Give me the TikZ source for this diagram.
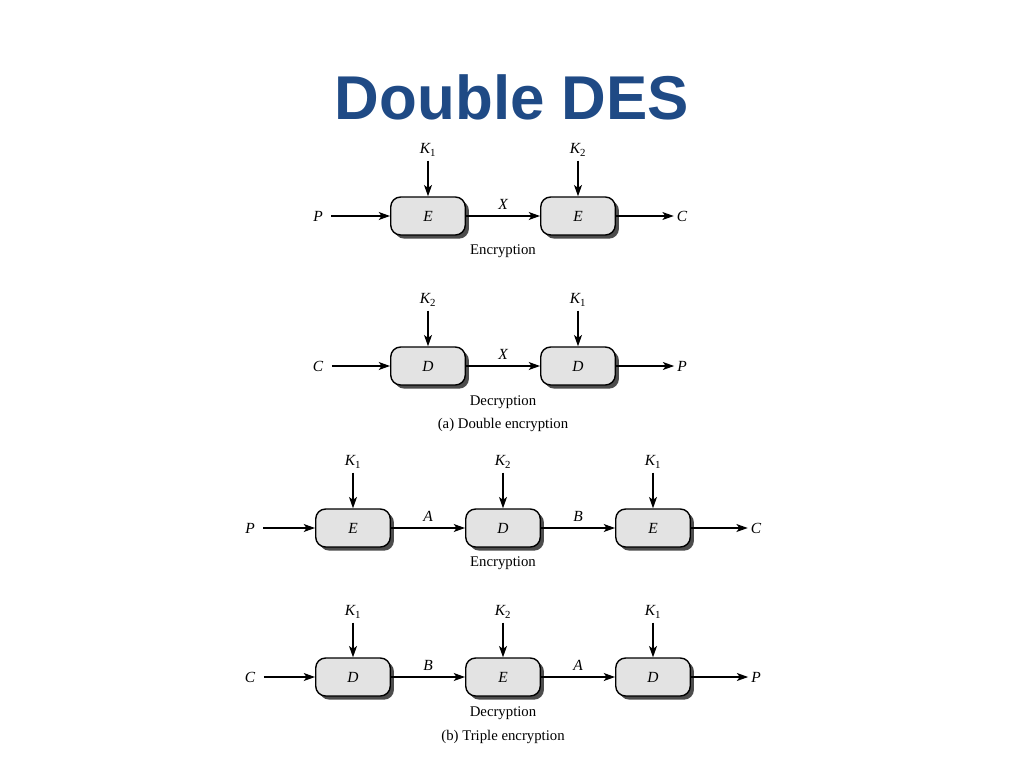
\documentclass[tikz,border=0pt]{standalone}
\usepackage{fontspec}
\setmainfont{Liberation Serif}
\newfontfamily\titlefont{Liberation Sans}
\usetikzlibrary{arrows.meta,shadows}
\definecolor{titleblue}{HTML}{1F4A85}
\begin{document}
\begin{tikzpicture}[x=0.025cm,y=-0.025cm,
  blk/.style={draw=black, line width=1pt, fill=gray!22, rounded corners=7pt,
    minimum width=53pt, minimum height=27pt, inner sep=0pt,
    font=\itshape\fontsize{11}{12}\selectfont,
    drop shadow={shadow xshift=2.6pt, shadow yshift=-2.6pt, fill=black!70, opacity=1}},
  lbl/.style={font=\itshape\fontsize{11}{12}\selectfont, inner sep=1pt},
  key/.style={lbl, inner ysep=3pt},
  inl/.style={lbl, inner xsep=6pt},
  outl/.style={lbl, inner xsep=2pt},
  captxt/.style={font=\fontsize{10.5}{12}\selectfont, inner sep=0pt},
  arr/.style={-{Stealth[length=8pt,width=5.6pt,inset=2pt]}, line width=1.2pt}]
\useasboundingbox (0,0) rectangle (1024,768);
\node[font=\titlefont\bfseries\fontsize{44}{50}\selectfont, text=titleblue] (title) at (512,97) {Double DES};

% ---- (a) Double encryption: encryption
\node[blk] (e1) at (428,216) {E};
\node[blk] (e2) at (578,216) {E};
\node[key] (k1a) at (428,150) {K\textsubscript{\upshape 1}};
\node[key] (k2a) at (578,150) {K\textsubscript{\upshape 2}};
\node[inl] (pa) at (318,216) {P};
\node[outl] (ca) at (682,216) {C};
\draw[arr] (k1a) -- (e1);
\draw[arr] (k2a) -- (e2);
\draw[arr] (pa) -- (e1);
\draw[arr] (e1) -- node[lbl, above=3pt] (xa) {X} (e2);
\draw[arr] (e2) -- (ca);
\node[captxt] (enca) at (503,251) {Encryption};

% ---- (a) Double encryption: decryption
\node[blk] (d1) at (428,366) {D};
\node[blk] (d2) at (578,366) {D};
\node[key] (k2b) at (428,300) {K\textsubscript{\upshape 2}};
\node[key] (k1b) at (578,300) {K\textsubscript{\upshape 1}};
\node[inl] (cb) at (318,366) {C};
\node[outl] (pb) at (682,366) {P};
\draw[arr] (k2b) -- (d1);
\draw[arr] (k1b) -- (d2);
\draw[arr] (cb) -- (d1);
\draw[arr] (d1) -- node[lbl, above=3pt] (xb) {X} (d2);
\draw[arr] (d2) -- (pb);
\node[captxt] (decb) at (503,402) {Decryption};
\node[captxt] (capa) at (503,425) {(a) Double encryption};

% ---- (b) Triple encryption: encryption
\node[blk] (te1) at (353,528) {E};
\node[blk] (td2) at (503,528) {D};
\node[blk] (te3) at (653,528) {E};
\node[key] (k1c) at (353,462) {K\textsubscript{\upshape 1}};
\node[key] (k2c) at (503,462) {K\textsubscript{\upshape 2}};
\node[key] (k3c) at (653,462) {K\textsubscript{\upshape 1}};
\node[inl] (pc) at (250,528) {P};
\node[outl] (cc) at (756,528) {C};
\draw[arr] (k1c) -- (te1);
\draw[arr] (k2c) -- (td2);
\draw[arr] (k3c) -- (te3);
\draw[arr] (pc) -- (te1);
\draw[arr] (te1) -- node[lbl, above=3pt] (ac) {A} (td2);
\draw[arr] (td2) -- node[lbl, above=3pt] (bc) {B} (te3);
\draw[arr] (te3) -- (cc);
\node[captxt] (encc) at (503,563) {Encryption};

% ---- (b) Triple encryption: decryption
\node[blk] (td1) at (353,677) {D};
\node[blk] (te2) at (503,677) {E};
\node[blk] (td3) at (653,677) {D};
\node[key] (k1d) at (353,612) {K\textsubscript{\upshape 1}};
\node[key] (k2d) at (503,612) {K\textsubscript{\upshape 2}};
\node[key] (k3d) at (653,612) {K\textsubscript{\upshape 1}};
\node[inl] (cd) at (250,677) {C};
\node[outl] (pd) at (756,677) {P};
\draw[arr] (k1d) -- (td1);
\draw[arr] (k2d) -- (te2);
\draw[arr] (k3d) -- (td3);
\draw[arr] (cd) -- (td1);
\draw[arr] (td1) -- node[lbl, above=3pt] (bd) {B} (te2);
\draw[arr] (te2) -- node[lbl, above=3pt] (ad) {A} (td3);
\draw[arr] (td3) -- (pd);
\node[captxt] (decd) at (503,713) {Decryption};
\node[captxt] (capb) at (503,737) {(b) Triple encryption};
\end{tikzpicture}
\end{document}
